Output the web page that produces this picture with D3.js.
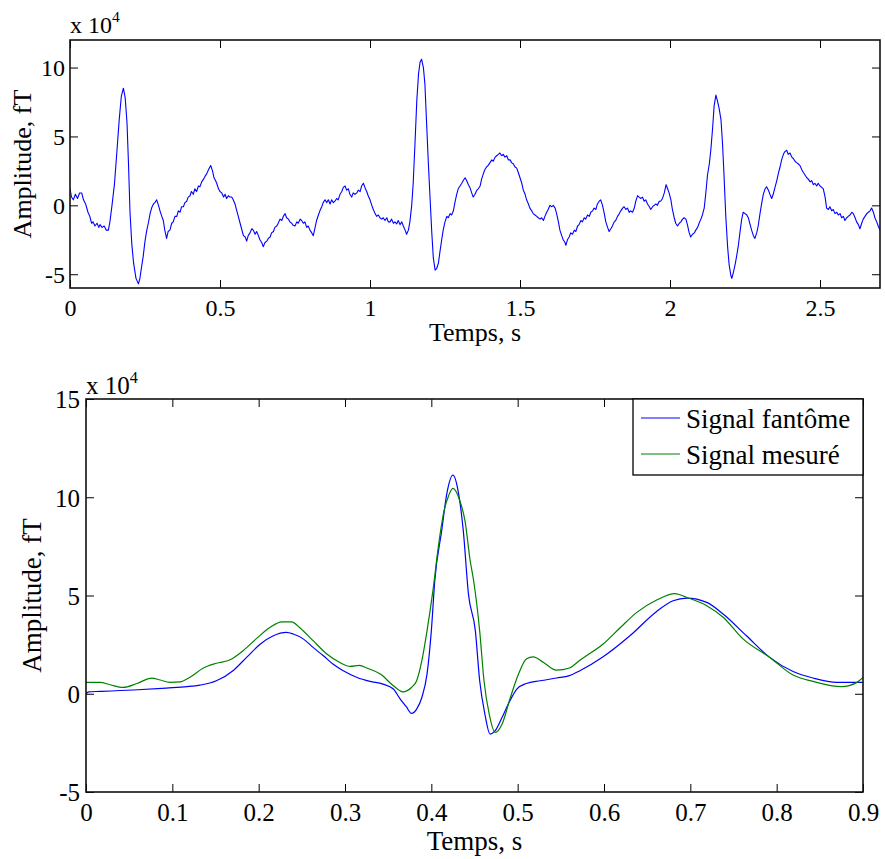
<!DOCTYPE html>
<html>
<head>
<meta charset="utf-8">
<script src="https://cdn.jsdelivr.net/npm/d3@7/dist/d3.min.js"></script>
<style>
  html, body { margin: 0; padding: 0; background: #fff; }
  svg { display: block; }
  text { font-family: "Liberation Serif", "Times New Roman", serif; fill: #000; }
</style>
</head>
<body>
<svg id="chart" width="885" height="859"></svg>
<script>
// ---------------- DATA ----------------
// Top panel: noisy magnetocardiogram trace (amplitude in units of 1e4 fT)
const topT = [0.000,0.005,0.011,0.018,0.025,0.032,0.039,0.045,0.052,0.060,0.066,0.072,0.077,0.083,0.090,0.096,0.100,0.107,0.114,0.121,0.128,0.133,0.140,0.148,0.156,0.164,0.171,0.178,0.184,0.190,0.195,0.200,0.206,0.212,0.220,0.228,0.233,0.239,0.244,0.250,0.256,0.261,0.267,0.272,0.278,0.283,0.289,0.295,0.300,0.306,0.311,0.316,0.322,0.327,0.333,0.339,0.344,0.350,0.356,0.361,0.367,0.372,0.378,0.383,0.389,0.394,0.400,0.405,0.411,0.416,0.422,0.428,0.433,0.439,0.445,0.450,0.456,0.462,0.469,0.475,0.480,0.485,0.489,0.495,0.500,0.506,0.512,0.517,0.522,0.528,0.533,0.539,0.544,0.550,0.556,0.561,0.567,0.572,0.578,0.584,0.589,0.594,0.600,0.606,0.611,0.617,0.622,0.628,0.633,0.639,0.644,0.650,0.656,0.661,0.667,0.672,0.678,0.683,0.689,0.694,0.700,0.706,0.711,0.717,0.722,0.728,0.733,0.739,0.744,0.750,0.756,0.761,0.767,0.772,0.778,0.783,0.789,0.794,0.800,0.806,0.811,0.817,0.822,0.828,0.833,0.839,0.844,0.850,0.856,0.861,0.867,0.872,0.878,0.883,0.889,0.894,0.900,0.906,0.911,0.917,0.922,0.928,0.933,0.939,0.944,0.950,0.956,0.961,0.967,0.972,0.978,0.983,0.989,0.994,1.000,1.006,1.011,1.017,1.022,1.028,1.033,1.039,1.044,1.050,1.056,1.061,1.067,1.072,1.078,1.083,1.089,1.094,1.100,1.106,1.111,1.117,1.122,1.128,1.133,1.139,1.144,1.150,1.156,1.162,1.167,1.172,1.178,1.183,1.189,1.194,1.200,1.206,1.211,1.217,1.222,1.228,1.233,1.239,1.244,1.250,1.256,1.261,1.267,1.272,1.278,1.283,1.289,1.294,1.300,1.306,1.311,1.317,1.322,1.328,1.333,1.339,1.344,1.350,1.356,1.361,1.367,1.372,1.378,1.383,1.389,1.394,1.400,1.406,1.411,1.417,1.422,1.428,1.433,1.439,1.444,1.450,1.456,1.461,1.467,1.472,1.478,1.483,1.489,1.494,1.500,1.506,1.511,1.517,1.522,1.528,1.533,1.539,1.544,1.550,1.556,1.561,1.567,1.572,1.578,1.583,1.589,1.594,1.600,1.606,1.611,1.617,1.622,1.628,1.633,1.639,1.644,1.650,1.653,1.658,1.664,1.669,1.675,1.681,1.686,1.692,1.697,1.703,1.708,1.714,1.719,1.725,1.731,1.736,1.742,1.747,1.753,1.758,1.764,1.769,1.775,1.781,1.786,1.792,1.797,1.803,1.808,1.814,1.819,1.825,1.831,1.836,1.842,1.847,1.853,1.858,1.864,1.869,1.875,1.881,1.886,1.892,1.897,1.903,1.908,1.914,1.919,1.925,1.931,1.936,1.942,1.947,1.953,1.958,1.964,1.969,1.975,1.981,1.987,1.992,1.997,2.003,2.008,2.014,2.019,2.025,2.031,2.036,2.042,2.047,2.053,2.058,2.064,2.069,2.075,2.081,2.086,2.092,2.097,2.103,2.108,2.114,2.119,2.125,2.131,2.136,2.142,2.147,2.153,2.158,2.164,2.170,2.175,2.180,2.186,2.192,2.197,2.203,2.206,2.211,2.217,2.222,2.228,2.233,2.239,2.244,2.250,2.256,2.261,2.267,2.272,2.278,2.283,2.289,2.294,2.300,2.306,2.311,2.317,2.322,2.328,2.333,2.339,2.344,2.350,2.356,2.361,2.367,2.372,2.378,2.383,2.389,2.394,2.400,2.406,2.411,2.417,2.422,2.428,2.433,2.439,2.444,2.450,2.456,2.461,2.467,2.472,2.478,2.483,2.489,2.494,2.500,2.506,2.511,2.517,2.522,2.528,2.533,2.539,2.544,2.550,2.556,2.561,2.567,2.572,2.578,2.583,2.589,2.594,2.600,2.606,2.611,2.617,2.622,2.628,2.633,2.639,2.644,2.650,2.656,2.661,2.667,2.672,2.678,2.683,2.689,2.694,2.700];
const topV = [1.2,0.6,0.4,0.8,0.5,0.9,0.9,0.4,0.1,-0.5,-0.8,-1.3,-1.2,-1.5,-1.3,-1.6,-1.4,-1.6,-1.5,-1.8,-1.8,-1.2,0.0,1.5,3.8,6.2,7.9,8.5,7.8,6.0,3.0,-0.5,-2.8,-4.2,-5.3,-5.7,-5.3,-4.4,-3.7,-2.6,-1.8,-1.3,-0.6,-0.2,0.1,0.2,0.4,0.0,-0.4,-0.8,-1.1,-1.8,-2.4,-1.9,-1.8,-1.3,-1.2,-0.8,-0.8,-0.4,-0.5,-0.1,-0.1,0.2,0.3,0.6,0.7,1.0,0.8,1.2,1.0,1.4,1.35,1.7,1.9,2.1,2.3,2.6,2.9,2.5,2.0,1.8,1.6,1.2,1.0,0.9,0.6,0.8,0.5,0.7,0.6,0.6,0.4,0.1,-0.4,-0.8,-1.3,-1.7,-2.2,-2.3,-2.6,-2.2,-2.0,-1.7,-1.8,-2.1,-1.9,-2.2,-2.5,-2.7,-3.0,-2.7,-2.6,-2.4,-2.3,-2.0,-1.9,-1.6,-1.5,-1.3,-1.0,-1.1,-0.8,-0.6,-0.9,-1.0,-1.2,-1.3,-1.45,-1.5,-1.2,-1.3,-1.0,-1.1,-1.3,-1.2,-1.6,-1.5,-1.8,-2.0,-2.2,-1.6,-1.1,-0.7,-0.4,-0.1,0.2,0.4,0.2,0.4,0.1,0.4,0.2,0.3,0.5,0.4,0.8,1.0,1.3,1.4,1.1,1.2,0.8,0.6,0.9,0.8,0.9,1.1,1.0,1.4,1.6,1.3,1.0,0.7,0.4,0.0,-0.3,-0.6,-0.8,-0.7,-0.9,-1.0,-0.9,-1.1,-0.9,-1.2,-1.2,-1.0,-1.3,-1.2,-1.35,-1.1,-1.4,-1.2,-1.5,-1.8,-2.1,-1.8,-1.2,0.0,1.6,4.5,7.6,9.6,10.4,10.6,10.0,8.8,5.8,3.3,0.6,-2.0,-3.8,-4.7,-4.6,-4.2,-3.4,-2.5,-1.8,-1.2,-0.8,-0.9,-0.6,-0.7,-0.4,0.2,0.8,1.2,1.4,1.6,1.8,2.0,1.8,1.5,1.3,0.9,0.6,0.8,1.1,1.2,1.4,1.9,2.3,2.6,2.8,2.9,3.1,3.3,3.2,3.5,3.6,3.7,3.8,3.6,3.7,3.5,3.6,3.3,3.3,3.1,3.0,2.8,2.7,2.4,2.0,1.6,1.1,0.8,0.4,0.1,-0.2,-0.4,-0.6,-0.7,-0.8,-0.9,-1.0,-0.9,-1.1,-0.8,-0.5,-0.3,0.0,-0.1,0.0,-0.2,-0.6,-1.2,-1.8,-2.2,-2.5,-2.7,-2.9,-2.5,-2.3,-2.0,-2.1,-1.8,-1.9,-1.5,-1.4,-1.1,-1.2,-0.9,-1.0,-0.7,-0.8,-0.5,-0.4,-0.2,-0.3,0.1,0.3,0.4,0.0,-0.6,-1.2,-1.6,-1.9,-1.7,-1.5,-1.2,-1.1,-0.8,-0.6,-0.4,-0.2,-0.1,-0.3,-0.2,-0.5,-0.4,-0.5,-0.2,0.3,0.7,0.6,0.5,0.6,0.3,0.4,0.1,-0.1,-0.3,-0.1,0.0,0.1,0.0,0.3,0.3,0.5,0.9,1.5,1.2,0.9,0.4,-0.3,-0.9,-1.3,-1.5,-1.3,-1.2,-1.0,-0.9,-1.0,-1.4,-2.0,-2.3,-2.1,-2.0,-1.8,-1.6,-1.3,-1.0,-0.7,-0.2,0.8,2.2,3.0,4.0,5.6,7.2,8.0,7.6,7.0,6.2,4.5,2.2,-0.8,-3.0,-4.3,-5.1,-5.3,-4.9,-4.3,-3.7,-2.9,-2.0,-1.0,-0.5,-0.6,-0.7,-0.9,-1.4,-1.8,-2.2,-2.4,-2.0,-1.5,-0.6,0.2,0.8,1.2,1.35,1.1,0.8,0.5,0.8,1.3,1.8,2.3,2.8,3.3,3.7,3.9,4.0,3.7,3.8,3.5,3.4,3.2,3.1,3.0,2.9,2.6,2.4,2.2,2.0,1.9,1.7,1.8,1.5,1.6,1.4,1.6,1.4,1.3,1.2,0.6,-0.2,-0.3,-0.1,-0.4,-0.3,-0.6,-0.5,-0.7,-0.6,-0.9,-0.8,-1.1,-0.9,-0.8,-0.7,-0.5,-0.6,-0.9,-1.2,-1.4,-1.7,-1.3,-1.0,-0.8,-0.6,-0.5,-0.4,-0.2,-0.5,-0.9,-1.2,-1.5,-1.8];

// Bottom panel: averaged beat, two series
const blueT = [0.000,0.003,0.016,0.055,0.093,0.117,0.132,0.151,0.171,0.186,0.202,0.217,0.232,0.240,0.252,0.263,0.275,0.286,0.298,0.314,0.329,0.344,0.356,0.364,0.371,0.377,0.383,0.389,0.395,0.400,0.404,0.412,0.418,0.425,0.431,0.437,0.443,0.451,0.456,0.462,0.468,0.474,0.482,0.491,0.499,0.510,0.526,0.545,0.560,0.572,0.599,0.630,0.661,0.680,0.696,0.719,0.738,0.765,0.792,0.819,0.842,0.870,0.900];
const blueV = [0.0,0.1,0.12,0.19,0.29,0.36,0.44,0.66,1.2,1.85,2.53,2.95,3.12,3.04,2.78,2.36,1.93,1.51,1.17,0.83,0.63,0.49,0.24,-0.27,-0.66,-1.0,-0.78,-0.19,1.0,3.2,5.75,8.3,10.2,11.13,10.33,8.3,5.07,3.2,0.66,-1.03,-2.05,-1.88,-1.2,-0.36,0.24,0.52,0.66,0.8,0.92,1.17,1.88,2.95,4.19,4.73,4.87,4.65,4.06,2.95,1.85,1.13,0.8,0.58,0.58];
const greenT = [0.000,0.016,0.028,0.043,0.059,0.076,0.086,0.097,0.109,0.120,0.136,0.151,0.167,0.182,0.198,0.213,0.227,0.238,0.248,0.263,0.279,0.294,0.306,0.317,0.325,0.341,0.356,0.367,0.377,0.383,0.389,0.395,0.402,0.408,0.414,0.420,0.425,0.433,0.439,0.445,0.449,0.456,0.461,0.467,0.474,0.482,0.491,0.501,0.510,0.518,0.530,0.545,0.560,0.572,0.599,0.619,0.638,0.661,0.682,0.696,0.719,0.738,0.761,0.792,0.819,0.842,0.875,0.893,0.900];
const greenV = [0.58,0.58,0.46,0.32,0.52,0.8,0.7,0.58,0.6,0.83,1.31,1.55,1.73,2.19,2.83,3.37,3.66,3.66,3.35,2.7,2.02,1.59,1.39,1.44,1.31,1.0,0.41,0.1,0.32,0.66,1.68,3.2,5.3,7.45,9.15,10.08,10.45,9.82,8.8,6.77,5.75,3.2,0.66,-1.03,-1.97,-1.54,-0.27,1.0,1.77,1.88,1.59,1.2,1.31,1.71,2.53,3.37,4.14,4.77,5.1,4.9,4.48,3.89,2.79,1.85,0.95,0.63,0.36,0.58,0.83];

const topXTicks = [0, 0.5, 1, 1.5, 2, 2.5];
const topXTickLabels = ["0", "0.5", "1", "1.5", "2", "2.5"];
const topYTicks = [-5, 0, 5, 10];
const topYTickLabels = ["-5", "0", "5", "10"];
const botXTicks = [0, 0.1, 0.2, 0.3, 0.4, 0.5, 0.6, 0.7, 0.8, 0.9];
const botXTickLabels = ["0", "0.1", "0.2", "0.3", "0.4", "0.5", "0.6", "0.7", "0.8", "0.9"];
const botYTicks = [-5, 0, 5, 10, 15];
const botYTickLabels = ["-5", "0", "5", "10", "15"];
const legendLabels = ["Signal fantôme", "Signal mesuré"];
const xLabel = "Temps, s";
const yLabel = "Amplitude, fT";

// ---------------- DRAW ----------------
const svg = d3.select("#chart");

function panel(cfg) {
  const g = svg.append("g");
  const x = d3.scaleLinear().domain(cfg.xDomain).range([cfg.left, cfg.right]);
  const y = d3.scaleLinear().domain(cfg.yDomain).range([cfg.bottom, cfg.top]);

  const clipId = "clip" + cfg.id;
  svg.append("clipPath").attr("id", clipId).append("rect")
    .attr("x", cfg.left).attr("y", cfg.top)
    .attr("width", cfg.right - cfg.left).attr("height", cfg.bottom - cfg.top);

  cfg.series.forEach(s => {
    const line = d3.line().x(d => x(d[0])).y(d => y(d[1])).curve(s.curve || d3.curveLinear);
    const pts = s.t.map((t, i) => [t, s.v[i]]);
    g.append("path").attr("d", line(pts))
      .attr("fill", "none").attr("stroke", s.color)
      .attr("stroke-width", s.width).attr("stroke-linejoin", "round")
      .attr("clip-path", `url(#${clipId})`);
  });

  const tk = 8;
  const xb = g.append("g").attr("transform", `translate(0,${cfg.bottom})`)
    .call(d3.axisBottom(x).tickValues(cfg.xTicks).tickSize(-tk).tickSizeOuter(0)
      .tickFormat((d, i) => cfg.xTickLabels[i]));
  const xt = g.append("g").attr("transform", `translate(0,${cfg.top})`)
    .call(d3.axisTop(x).tickValues(cfg.xTicks).tickSize(-tk).tickSizeOuter(0).tickFormat(""));
  const yl = g.append("g").attr("transform", `translate(${cfg.left},0)`)
    .call(d3.axisLeft(y).tickValues(cfg.yTicks).tickSize(-tk).tickSizeOuter(0)
      .tickFormat((d, i) => cfg.yTickLabels[i]));
  const yr = g.append("g").attr("transform", `translate(${cfg.right},0)`)
    .call(d3.axisRight(y).tickValues(cfg.yTicks).tickSize(-tk).tickSizeOuter(0).tickFormat(""));

  [xb, xt, yl, yr].forEach(a => {
    a.select(".domain").remove();
    a.selectAll(".tick line").attr("stroke", "#000").attr("stroke-width", 1);
  });
  xb.selectAll(".tick text").attr("font-size", cfg.tickFont).attr("dy", null)
    .attr("y", cfg.xTickDy).attr("font-family", "Liberation Serif, serif").attr("fill", "#000");
  yl.selectAll(".tick text").attr("font-size", cfg.tickFont)
    .attr("x", -cfg.yTickGap).attr("dy", "0.35em").attr("font-family", "Liberation Serif, serif").attr("fill", "#000");

  g.append("rect").attr("x", cfg.left).attr("y", cfg.top)
    .attr("width", cfg.right - cfg.left).attr("height", cfg.bottom - cfg.top)
    .attr("fill", "none").attr("stroke", "#111").attr("stroke-width", 1.6);

  g.append("text").attr("x", (cfg.left + cfg.right) / 2).attr("y", cfg.xLabelY)
    .attr("text-anchor", "middle").attr("font-size", cfg.labelFont).text(xLabel);
  g.append("text")
    .attr("transform", `translate(${cfg.yLabelX},${(cfg.top + cfg.bottom) / 2}) rotate(-90)`)
    .attr("text-anchor", "middle").attr("font-size", cfg.labelFont).text(yLabel);

  const ex = g.append("text").attr("x", cfg.left).attr("y", cfg.expY).attr("font-size", cfg.expFont);
  ex.append("tspan").text("x 10");
  ex.append("tspan").attr("dy", -cfg.expFont * 0.45).attr("font-size", cfg.expFont * 0.65).text("4");

  return { g, x, y };
}

panel({
  id: "top", left: 70, right: 880, top: 40, bottom: 288,
  xDomain: [0, 2.7], yDomain: [-6, 12],
  xTicks: topXTicks, xTickLabels: topXTickLabels,
  yTicks: topYTicks, yTickLabels: topYTickLabels,
  tickFont: 24, labelFont: 26, expFont: 24,
  xTickDy: 28, yTickGap: 5, xLabelY: 341, yLabelX: 31, expY: 33,
  series: [{ t: topT, v: topV, color: "#0000ff", width: 1.1 }]
});

const bot = panel({
  id: "bot", left: 86, right: 863, top: 399, bottom: 792,
  xDomain: [0, 0.9], yDomain: [-5, 15],
  xTicks: botXTicks, xTickLabels: botXTickLabels,
  yTicks: botYTicks, yTickLabels: botYTickLabels,
  tickFont: 25, labelFont: 27, expFont: 25,
  xTickDy: 29, yTickGap: 6, xLabelY: 850, yLabelX: 41, expY: 394,
  series: [
    { t: blueT, v: blueV, color: "#0000ff", width: 1.2, curve: d3.curveMonotoneX },
    { t: greenT, v: greenV, color: "#008000", width: 1.2, curve: d3.curveMonotoneX }
  ]
});

// legend
const lg = bot.g.append("g");
lg.append("rect").attr("x", 633).attr("y", 399).attr("width", 230).attr("height", 76)
  .attr("fill", "#fff").attr("stroke", "#000").attr("stroke-width", 1.3);
const legColors = ["#0000ff", "#008000"];
legendLabels.forEach((lab, i) => {
  const cy = 418 + i * 36;
  lg.append("line").attr("x1", 641).attr("x2", 680).attr("y1", cy).attr("y2", cy)
    .attr("stroke", legColors[i]).attr("stroke-width", 1.2);
  lg.append("text").attr("x", 686).attr("y", cy + 10).attr("font-size", 27).text(lab);
});
</script>
</body>
</html>
